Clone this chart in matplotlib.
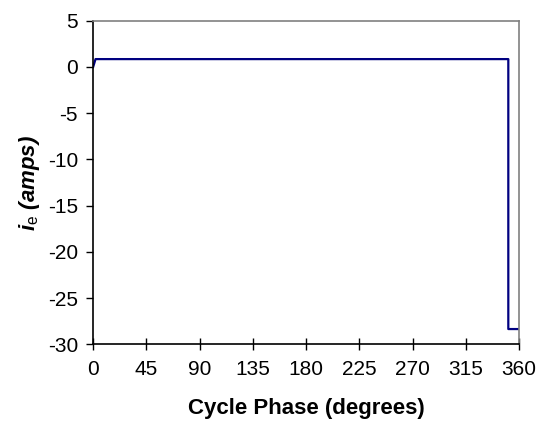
import matplotlib
matplotlib.use('Agg')
import matplotlib.pyplot as plt

plt.rcParams['font.family'] = ['Liberation Sans', 'DejaVu Sans']
plt.rcParams['axes.unicode_minus'] = False
plt.rcParams['mathtext.fontset'] = 'custom'
plt.rcParams['mathtext.rm'] = 'Liberation Sans'
plt.rcParams['mathtext.it'] = 'Liberation Sans:italic'
plt.rcParams['mathtext.bf'] = 'Liberation Sans:bold'
plt.rcParams['mathtext.bfit'] = 'Liberation Sans:bold:italic'

# cycle phase (deg) and electrode current (amps)
phase = [0, 2, 351, 351, 360]
current = [0, 0.85, 0.85, -28.35, -28.35]
xticks = [0, 45, 90, 135, 180, 225, 270, 315, 360]
yticks = [5, 0, -5, -10, -15, -20, -25, -30]

fig = plt.figure(figsize=(5.48, 4.32), dpi=100)
ax = fig.add_axes([0.170, 0.203, 0.777, 0.749])

ax.plot(phase, current, color='#000080', linewidth=1.6)

ax.set_xlim(0, 360)
ax.set_ylim(-30, 5)
ax.set_xticks(xticks)
ax.set_yticks(yticks)
ax.tick_params(axis='x', direction='inout', length=8, width=1, labelsize=15, pad=7)
ax.tick_params(axis='y', direction='out', length=5, width=1, labelsize=15, pad=6)

ax.spines['left'].set_color('black')
ax.spines['bottom'].set_color('black')
ax.spines['top'].set_color('#808080')
ax.spines['right'].set_color('#808080')
for s in ax.spines.values():
    s.set_linewidth(1.2)

ax.set_xlabel('Cycle Phase (degrees)', fontsize=16, fontweight='bold', labelpad=14)
ax.set_ylabel(r'$\mathbfit{i}_{\mathrm{e}}$ (amps)', fontsize=16, fontweight='bold',
              style='italic', labelpad=4)

fig.savefig('out.png', dpi=100)
